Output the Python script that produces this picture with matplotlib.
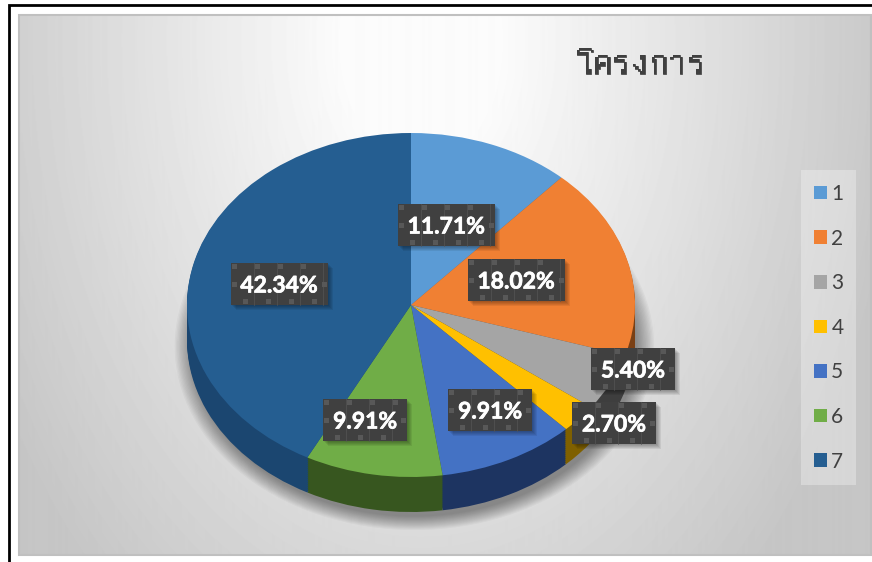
import numpy as np
import matplotlib
matplotlib.use("Agg")
import matplotlib.pyplot as plt
import matplotlib.patheffects as pe
from matplotlib import font_manager as fm
from matplotlib.patches import Ellipse, Rectangle

categories = ["1", "2", "3", "4", "5", "6", "7"]
percents = [11.71, 18.02, 5.40, 2.70, 9.91, 9.91, 42.34]
top_colors = ["#5B9BD5", "#F08033", "#A5A5A5", "#FFC000", "#4472C4", "#70AD47", "#255E91"]
side_colors = ["#3A6A96", "#7A4015", "#3E3E3E", "#7F6000", "#1D3461", "#37561F", "#1B4670"]
title_text = "โครงการ"

# label box centres in pixels, same order as percents
label_xy = [(446, 225), (516, 280), (633, 369), (614, 423), (490, 410), (365, 420), (279, 284)]

W, H = 872, 562
PIE_X, PIE_Y, RX, RY, DEPTH = 411, 305, 224, 172, 35


def find_thai_font():
    for path in fm.findSystemFonts():
        try:
            if 0x0E42 in fm.get_font(path).get_charmap():
                return path
        except Exception:
            pass
    return None


fig = plt.figure(figsize=(W / 100, H / 100), dpi=100, facecolor="white")

# background gradient and frame, in pixel coordinates
bg = fig.add_axes([0, 0, 1, 1])
bg.axis("off")
xx, yy = np.meshgrid(np.arange(19, 871), np.arange(15, 555))
dist = np.sqrt(((xx - 420) / 450) ** 2 + ((yy - 40) / 680) ** 2)
shade = np.clip(262 - 60 * dist, 198, 252)
bg.imshow(shade, cmap="gray", vmin=0, vmax=255, extent=(19, 871, 555, 15), aspect="auto", zorder=1)
bg.set_xlim(0, W)
bg.set_ylim(H, 0)
bg.add_patch(Rectangle((19, 15), 852, 540, fill=False, ec="#C0C0C0", lw=1.5, zorder=2))
bg.add_patch(Rectangle((801, 170), 55, 315, fc="white", ec="none", alpha=0.3, zorder=2))  # legend panel
bg.plot([9, 9, W], [H, 5, 5], color="black", lw=2, solid_joinstyle="miter", zorder=3)

# pie axes: one data unit is RX pixels across and RY pixels down
ax = fig.add_axes([(PIE_X - 1.25 * RX) / W, 1 - (PIE_Y + 1.25 * RY) / H, 2.5 * RX / W, 2.5 * RY / H])
ax.patch.set_alpha(0)

for i in range(14):
    grow = 1.07 - i * 0.006
    ax.add_patch(Ellipse((0.015, -(DEPTH + 6) / RY), 2 * grow, 2 * grow, fc="black", ec="none",
                         alpha=0.03, zorder=0, clip_on=False))

for d in np.linspace(DEPTH, 1, 18):
    ax.pie(percents, colors=side_colors, startangle=90, counterclock=False, center=(0, -d / RY),
           wedgeprops={"linewidth": 0, "zorder": 1})
wedges, _ = ax.pie(percents, colors=top_colors, startangle=90, counterclock=False,
                   wedgeprops={"linewidth": 0, "zorder": 2})
ax.set_aspect("auto")
ax.set_xlim(-1.25, 1.25)
ax.set_ylim(-1.25, 1.25)
ax.axis("off")

# data labels on top, in pixel coordinates again
over = fig.add_axes([0, 0, 1, 1])
over.set_xlim(0, W)
over.set_ylim(H, 0)
over.axis("off")
over.patch.set_alpha(0)


def draw_label(cx, cy, text):
    w = 97 if len(text) > 5 else 84
    h = 42
    x0, y0 = cx - w / 2, cy - h / 2
    for k in range(1, 6):
        over.add_patch(Rectangle((x0 + k, y0 + k), w, h, fc="black", ec="none", alpha=0.07, zorder=4))
    over.add_patch(Rectangle((x0, y0), w, h, fc="#404040", ec="none", zorder=5))
    for sx in np.arange(x0 + 23, x0 + w - 2, 23):
        over.plot([sx, sx], [y0, y0 + h], color="#555555", lw=0.5, zorder=6)
    sq = 5
    for sx in np.arange(x0 + 1, x0 + w - sq, 23):
        over.add_patch(Rectangle((sx, y0 + 1), sq, sq, fc="#585858", ec="none", zorder=6))
    for sx in np.arange(x0 + 12, x0 + w - sq, 23):
        over.add_patch(Rectangle((sx, y0 + h - sq - 1), sq, sq, fc="#585858", ec="none", zorder=6))
    over.add_patch(Rectangle((x0 + 1, cy - 2), sq, sq, fc="#585858", ec="none", zorder=6))
    over.add_patch(Rectangle((x0 + w - sq - 1, cy - 2), sq, sq, fc="#585858", ec="none", zorder=6))
    over.text(cx, cy, text, color="white", fontsize=16.5, fontweight="bold", family="Lato",
              ha="center", va="center_baseline", zorder=7,
              path_effects=[pe.withStroke(linewidth=0.5, foreground="white")])


for (cx, cy), p in zip(label_xy, percents):
    draw_label(cx, cy, f"{p:.2f}%")

thai_path = find_thai_font()
title_font = fm.FontProperties(fname=thai_path, size=27) if thai_path else fm.FontProperties(size=27)
over.text(640, 63, title_text, color="#404040", fontproperties=title_font, ha="center", va="center", zorder=7,
          path_effects=[pe.withStroke(linewidth=0.5, foreground="#404040")])

leg = fig.legend(wedges, categories, loc="upper left", bbox_to_anchor=(814 / W, 1 - 184 / H), borderaxespad=0,
                 prop={"family": "Lato", "size": 15}, labelcolor="#404040", frameon=False,
                 handlelength=0.63, handleheight=0.63, handletextpad=0.2, labelspacing=1.18, borderpad=0)

fig.savefig("out.png", dpi=100)
